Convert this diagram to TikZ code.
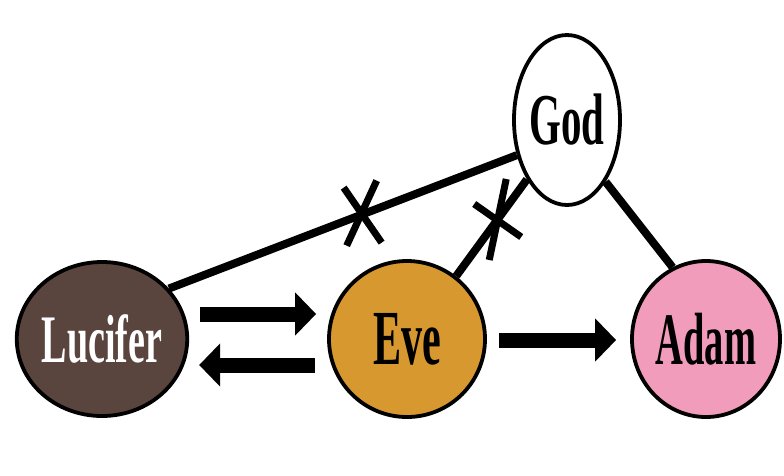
\documentclass[tikz,border=0pt]{standalone}
\usepackage{fontspec}
\setmainfont{Liberation Serif}
\usetikzlibrary{shapes.geometric,arrows.meta,calc}
\definecolor{lucbrown}{RGB}{90,68,62}
\definecolor{evegold}{RGB}{216,152,48}
\definecolor{adampink}{RGB}{241,156,187}
\tikzset{
  person/.style={ellipse, draw=black, line width=3.8pt, inner sep=0pt},
  link/.style={line width=8pt, black},
  crossmark/.style={line width=7pt, black},
  bigarrow/.style={line width=15pt, black, -{Triangle[length=21pt,width=42pt]}},
}
\newcommand{\lbl}[3]{\scalebox{#2}[1]{\fontsize{#1}{#1}\selectfont\bfseries #3}}
\begin{document}
\begin{tikzpicture}[x=1pt,y=-1pt]
\useasboundingbox[fill=white] (0,0) rectangle (784,475);
\node[person, fill=lucbrown, minimum width=170pt, minimum height=154pt, text=white] (luc) at (102,339) {\lbl{68}{0.56}{Lucifer}};
\node[person, fill=evegold, minimum width=156pt, minimum height=156pt] (eve) at (407,339) {\lbl{78}{0.54}{Eve}};
\node[person, fill=adampink, minimum width=148pt, minimum height=156pt] (adam) at (706,339) {\lbl{74}{0.52}{Adam}};
\node[person, fill=white, minimum width=96pt, minimum height=170pt] (god) at (567,120) {\lbl{73}{0.56}{God}};
% links to God
\draw[link] (luc.37) -- coordinate[pos=0.554] (x1) (god.215);
\draw[link] (eve.52) -- coordinate[pos=0.58] (x2) (god.236);
\draw[link] (god.302) -- (adam.115);
% crosses
\draw[crossmark] ($(x1)+(-18,-27)$) -- ($(x1)+(20,28)$);
\draw[crossmark] ($(x1)+(-15,31)$) -- ($(x1)+(15,-34)$);
\draw[crossmark] ($(x2)+(-23,-16)$) -- ($(x2)+(24,17)$);
\draw[crossmark] ($(x2)+(9,-41)$) -- ($(x2)+(-8,40)$);
% arrows
\draw[bigarrow] ($(luc.east)+(11,-25)$) -- ($(eve.west)+(-11,-25)$);
\draw[bigarrow] ($(eve.west)+(-12,26)$) -- ($(luc.east)+(10,26)$);
\draw[bigarrow] ($(eve.east)+(12,1)$) -- ($(adam.west)+(-14,1)$);
\end{tikzpicture}
\end{document}
